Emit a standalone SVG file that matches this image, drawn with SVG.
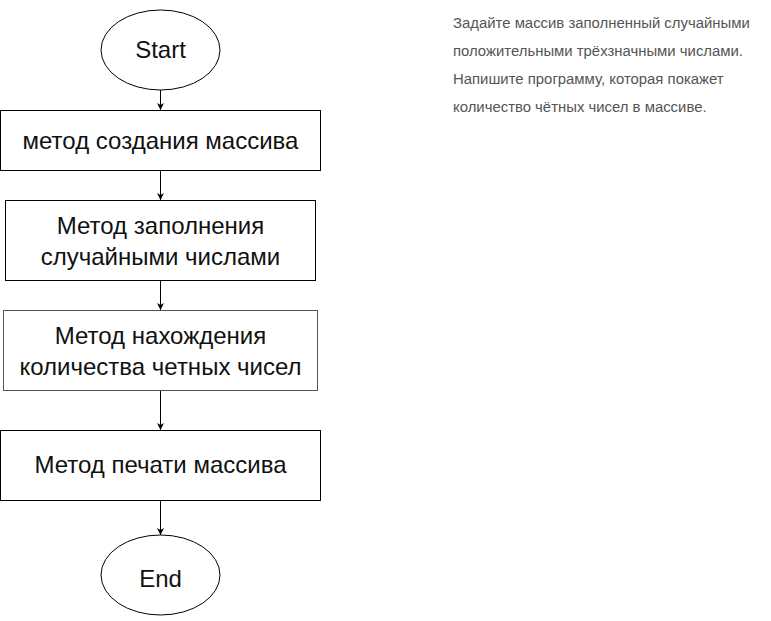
<svg xmlns="http://www.w3.org/2000/svg" width="771" height="621" viewBox="0 0 771 621">
<defs>
<style>
.shape{fill:#fff;stroke:#000;stroke-width:1}
.lbl{font-family:"Liberation Sans",Arial,sans-serif;font-size:24px;fill:#111;text-anchor:middle}
.note{font-family:"Liberation Sans",Arial,sans-serif;font-size:14.9px;fill:#555}
.edge{stroke:#000;stroke-width:1;fill:none;marker-end:url(#arr)}
</style>
<marker id="arr" markerWidth="8" markerHeight="8" refX="7" refY="4" orient="auto" markerUnits="userSpaceOnUse">
<path d="M0,0.5 L7,4 L0,7.5 L2,4 Z" fill="#000"/>
</marker>
</defs>
<rect width="771" height="621" fill="#fff"/>
<g id="connectors">
<line class="edge" x1="160.5" y1="90" x2="160.5" y2="110"/>
<line class="edge" x1="160.5" y1="170" x2="160.5" y2="200"/>
<line class="edge" x1="160.5" y1="280" x2="160.5" y2="310"/>
<line class="edge" x1="160.5" y1="390" x2="160.5" y2="430"/>
<line class="edge" x1="160.5" y1="500" x2="160.5" y2="535"/>
</g>
<g id="start">
<ellipse class="shape" cx="160.5" cy="50" rx="59.5" ry="40"/>
<text class="lbl" x="160.5" y="58">Start</text>
</g>
<g id="create">
<rect class="shape" x="0.5" y="110.5" width="320" height="60"/>
<text class="lbl" x="160.5" y="148.5">метод создания массива</text>
</g>
<g id="fill">
<rect class="shape" x="5.5" y="200.5" width="310" height="80"/>
<text class="lbl" x="160.5" y="234">Метод заполнения</text>
<text class="lbl" x="160.5" y="265">случайными числами</text>
</g>
<g id="count">
<rect class="shape" x="3.5" y="310.5" width="314" height="80" style="stroke:#555"/>
<text class="lbl" x="160.5" y="344">Метод нахождения</text>
<text class="lbl" x="160.5" y="375">количества четных чисел</text>
</g>
<g id="print">
<rect class="shape" x="0.5" y="430.5" width="320" height="70"/>
<text class="lbl" x="160.5" y="473">Метод печати массива</text>
</g>
<g id="end">
<ellipse class="shape" cx="160.5" cy="575" rx="59.5" ry="40"/>
<text class="lbl" x="160.5" y="587">End</text>
</g>
<g id="note">
<text class="note" x="453" y="28">Задайте массив заполненный случайными</text>
<text class="note" x="453" y="56">положительными трёхзначными числами.</text>
<text class="note" x="453" y="84">Напишите программу, которая покажет</text>
<text class="note" x="453" y="112">количество чётных чисел в массиве.</text>
</g>
</svg>
